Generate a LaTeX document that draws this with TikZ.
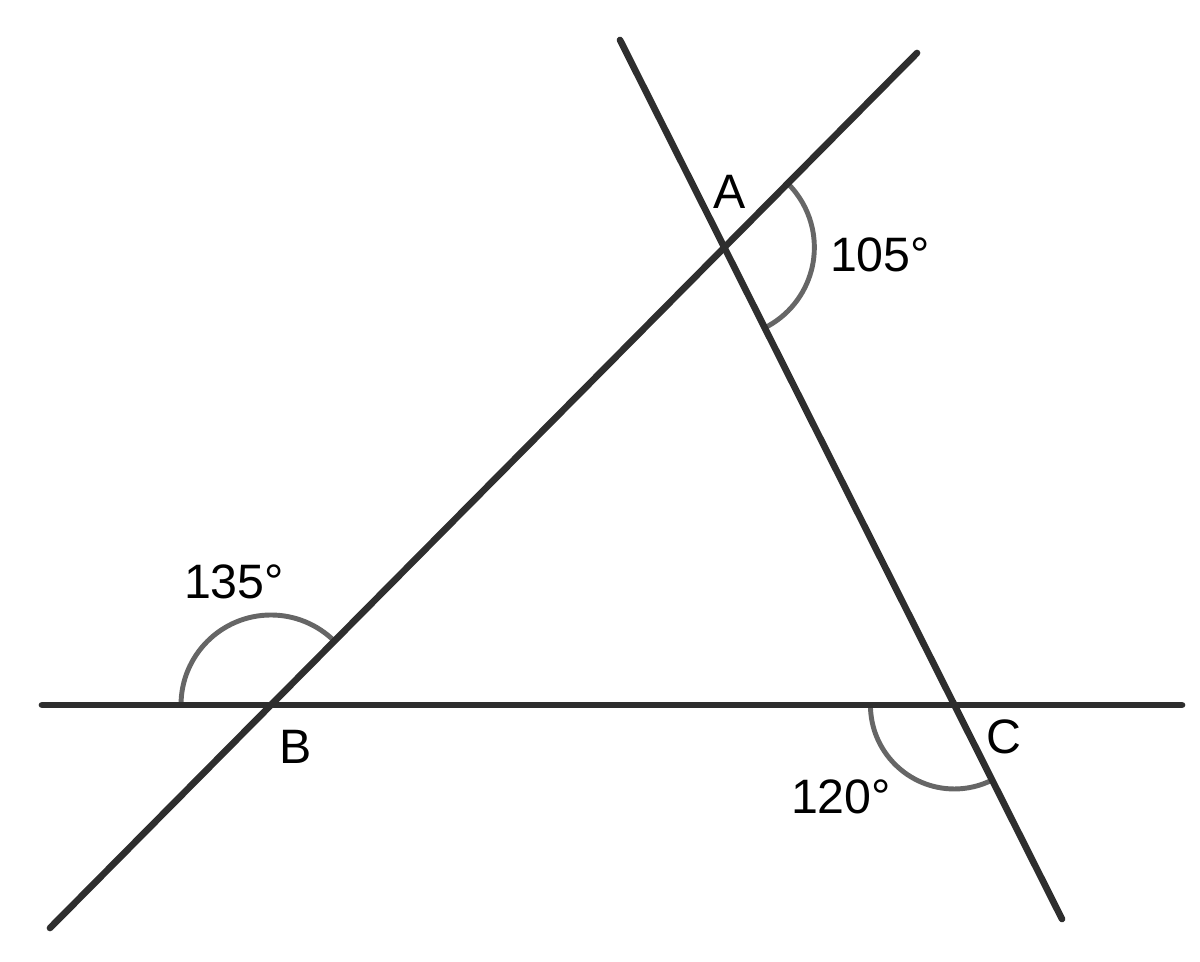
\documentclass[tikz,border=0pt]{standalone}
\usepackage{fontspec}
\setmainfont{Liberation Sans}
\definecolor{linegray}{HTML}{2E2E2E}
\definecolor{arcgray}{HTML}{666666}
\begin{document}
\begin{tikzpicture}[x=.02cm,y=.02cm,
    ray/.style={draw=linegray,line width=3.8pt,line cap=round},
    angarc/.style={draw=arcgray,line width=2.8pt},
    lbl/.style={font=\fontsize{27.5}{33}\selectfont,inner sep=0pt}]
   \useasboundingbox (0,0) rectangle (1200,961);
   % ends of the three lines
   \coordinate (h1) at (42,256);
   \coordinate (h2) at (1182,256);
   \coordinate (b1) at (50,33);
   \coordinate (b2) at (917,908);
   \coordinate (c1) at (620,921);
   \coordinate (c2) at (1062,42);
   \coordinate (A) at (intersection of b1--b2 and c1--c2);
   \coordinate (B) at (intersection of h1--h2 and b1--b2);
   \coordinate (C) at (intersection of h1--h2 and c1--c2);

   \draw[angarc] (B) ++(180:1.8cm) arc[start angle=180,end angle=45.3,radius=1.8cm];
   \draw[angarc] (A) ++(45.3:1.8cm) arc[start angle=45.3,end angle=-63.3,radius=1.8cm];
   \draw[angarc] (C) ++(180:1.68cm) arc[start angle=180,end angle=296.7,radius=1.68cm];

   \path[ray] (h1) -- (h2);
   \path[ray] (b1) -- (b2);
   \path[ray] (c1) -- (c2);

   \node[lbl] (la) at (730,769) {A};
   \node[lbl] (lb) at (296,214) {B};
   \node[lbl] (lc) at (1004,224) {C};
   \node[lbl] (aa) at (880,706) {105°};
   \node[lbl] (ab) at (234,379) {135°};
   \node[lbl] (ac) at (841,164) {120°};
\end{tikzpicture}
\end{document}
